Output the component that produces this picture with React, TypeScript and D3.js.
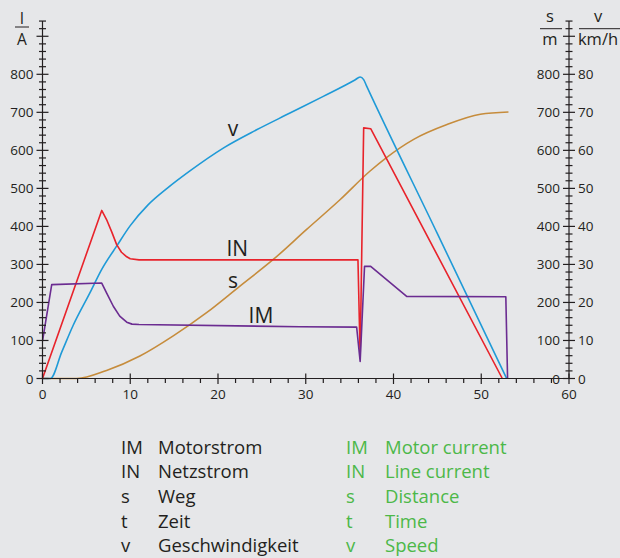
import React from "react";
import * as d3 from "d3";

// ---- data ----
const inT = [0, 6.75, 7.3, 7.9, 8.45, 9.0, 9.6, 10.0, 11.0, 35.95, 36.2, 36.6, 37.4, 52.4];
const inV = [0, 442, 418, 385, 352, 332, 320, 315, 312, 312, 59, 659, 657, 0];

const imT = [0, 1.05, 6.75, 7.3, 8.07, 8.8, 9.6, 10.2, 11.0, 29.3, 35.8, 36.2, 36.7, 37.4, 41.5, 52.8, 53.0];
const imV = [98, 247, 251, 225, 190, 164, 148, 143, 142, 136, 135, 45, 295, 295, 216, 215, 0];

const vT = [0, 0.9, 2.2, 3.5, 5.4, 6.75, 8.5, 10.0, 12.0, 14.3, 16.8, 20.6, 24.4, 28.2, 32.0, 35.6, 36.2, 36.6, 36.9, 45.0, 52.9];
const vV = [0, 0, 7, 14, 22.5, 28.7, 35, 40.2, 45.6, 50.2, 54.6, 60.6, 65.4, 69.8, 74.2, 78.5, 79.3, 78.6, 77.1, 38.1, 0];

const sT = [0, 3.9, 7.3, 11.1, 14.9, 18.7, 22.5, 26.3, 30.1, 33.9, 37.3, 39.2, 42.3, 46.1, 49.9, 53.1];
const sV = [0, 0, 21, 59, 112, 173, 243, 313, 392, 470, 545, 581, 629, 668, 695, 701];

const xTicks = d3.range(0, 61, 2);
const xLabels = [0, 10, 20, 30, 40, 50, 60];
const yTicks = d3.range(0, 941, 20);
const yLabels = [0, 100, 200, 300, 400, 500, 600, 700, 800];
const vLabels = [0, 10, 20, 30, 40, 50, 60, 70, 80];

const legendSym = ["IM", "IN", "s", "t", "v"];
const legendDe = ["Motorstrom", "Netzstrom", "Weg", "Zeit", "Geschwindigkeit"];
const legendEn = ["Motor current", "Line current", "Distance", "Time", "Speed"];

const curveLabels = [
  { text: "v", t: 21.7, val: 657 },
  { text: "IN", t: 22.2, val: 340 },
  { text: "s", t: 21.7, val: 256 },
  { text: "IM", t: 24.9, val: 164 },
];

// ---- styles ----
const BG = "#e6e7e9";
const TXT = "#231f20";
const GREEN = "#4cb848";
const C_IN = "#e8232b";
const C_IM = "#6b2c91";
const C_V = "#1f9ad7";
const C_S = "#c68c3c";
const FONT = "'Open Sans', 'DejaVu Sans', sans-serif";

export default function App() {
  const W = 620, H = 558;
  const x = d3.scaleLinear().domain([0, 60]).range([42.5, 569]);
  const y = d3.scaleLinear().domain([0, 800]).range([378.5, 74.3]);
  const yv = d3.scaleLinear().domain([0, 80]).range([378.5, 74.3]);

  const lin = d3.line<[number, number]>().x((d) => x(d[0])).y((d) => y(d[1]));
  const smooth = d3
    .line<[number, number]>()
    .x((d) => x(d[0]))
    .y((d) => y(d[1]))
    .curve(d3.curveMonotoneX);
  const smoothV = d3
    .line<[number, number]>()
    .x((d) => x(d[0]))
    .y((d) => yv(d[1]))
    .curve(d3.curveMonotoneX);

  const zip = (a: number[], b: number[]) => a.map((t, i) => [t, b[i]] as [number, number]);

  const y0 = y(0);
  const xL = x(0);
  const xR = x(60);
  const yTop = y(940);

  const rowY = (i: number) => 453.5 + i * 24.7;

  return (
    <div style={{ position: "fixed", left: 0, top: 0, width: W, height: H }}>
      <svg width={W} height={H} style={{ display: "block", fontFamily: FONT }}>
        <rect x={0} y={0} width={W} height={H} fill={BG} />

        {/* unit labels */}
        <g fill={TXT} textAnchor="middle">
          <text x={22} y={23.5} fontSize={15.5}>I</text>
          <line x1={15} x2={29} y1={27} y2={27} stroke={TXT} strokeWidth={1} />
          <text x={22} y={44.5} fontSize={15.5}>A</text>
          <text x={550} y={22} fontSize={16.5}>s</text>
          <line x1={540} x2={562} y1={28.7} y2={28.7} stroke={TXT} strokeWidth={1} />
          <text x={550} y={45} fontSize={16.5}>m</text>
          <text x={598} y={22} fontSize={16.5}>v</text>
          <line x1={579} x2={620} y1={28.7} y2={28.7} stroke={TXT} strokeWidth={1} />
          <text x={598} y={45} fontSize={16.5}>km/h</text>
        </g>

        {/* series */}
        <g fill="none" strokeWidth={1.6} strokeLinejoin="round">
          <path d={smooth(zip(sT, sV)) || ""} stroke={C_S} />
          <path d={smoothV(zip(vT, vV)) || ""} stroke={C_V} />
          <path d={lin(zip(inT, inV)) || ""} stroke={C_IN} />
          <path d={lin(zip(imT, imV)) || ""} stroke={C_IM} />
        </g>

        {/* axes */}
        <g stroke={TXT} strokeWidth={1.2}>
          <line x1={xL} x2={xL} y1={y0} y2={yTop} />
          <line x1={xR} x2={xR} y1={y0} y2={yTop} />
          <line x1={xL - 3} x2={xR} y1={y0} y2={y0} />
          {yTicks.map((v) => {
            const major = v % 100 === 0;
            const h = major ? 6 : 3.5;
            return (
              <g key={"yt" + v}>
                <line x1={xL - h} x2={xL + h} y1={y(v)} y2={y(v)} />
                <line x1={xR - h} x2={xR + h} y1={y(v)} y2={y(v)} />
              </g>
            );
          })}
          {xTicks.map((t) => {
            const major = t % 10 === 0;
            return (
              <line
                key={"xt" + t}
                x1={x(t)}
                x2={x(t)}
                y1={major ? y0 - 5 : y0}
                y2={major ? y0 + 5.5 : y0 + 4.5}
              />
            );
          })}
        </g>

        <g fill={TXT} fontSize={13.5}>
          {yLabels.map((v) => (
            <text key={"yl" + v} x={xL - 9} y={y(v) + 5} textAnchor="end">
              {v}
            </text>
          ))}
          {yLabels.map((v) => (
            <text key={"sl" + v} x={xR - 9} y={y(v) + 5} textAnchor="end">
              {v}
            </text>
          ))}
          {vLabels.map((v) => (
            <text key={"vl" + v} x={xR + 9} y={yv(v) + 5} textAnchor="start">
              {v}
            </text>
          ))}
          {xLabels.map((t) => (
            <text key={"xl" + t} x={x(t)} y={y0 + 20} textAnchor="middle">
              {t}
            </text>
          ))}
        </g>

        {/* curve labels */}
        <g fill={TXT} fontSize={21} textAnchor="middle">
          {curveLabels.map((c) => (
            <text key={c.text} x={x(c.t)} y={y(c.val) + 7}>
              {c.text}
            </text>
          ))}
        </g>

        {/* legend */}
        <g fontSize={18.5}>
          {legendSym.map((s, i) => (
            <g key={"lg" + i}>
              <text x={121} y={rowY(i)} fill={TXT}>{s}</text>
              <text x={158} y={rowY(i)} fill={TXT}>{legendDe[i]}</text>
              <text x={346} y={rowY(i)} fill={GREEN}>{s}</text>
              <text x={385} y={rowY(i)} fill={GREEN}>{legendEn[i]}</text>
            </g>
          ))}
        </g>
      </svg>
    </div>
  );
}
